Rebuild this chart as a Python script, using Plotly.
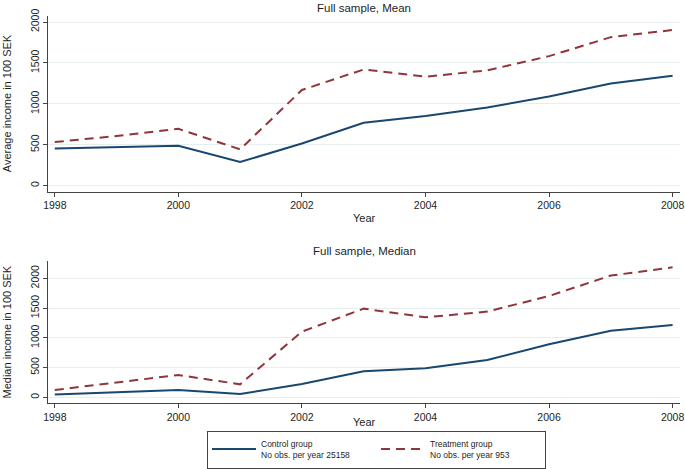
import plotly.graph_objects as go

years = [1998, 1999, 2000, 2001, 2002, 2003, 2004, 2005, 2006, 2007, 2008]
mean_control = [456, 477, 489, 289, 515, 770, 852, 955, 1090, 1248, 1344]
mean_treatment = [534, 607, 695, 444, 1170, 1420, 1332, 1409, 1583, 1815, 1902]
median_control = [45, 84, 123, 56, 224, 437, 490, 627, 890, 1118, 1214]
median_treatment = [123, 246, 375, 218, 1104, 1490, 1345, 1440, 1703, 2046, 2185]

x_ticks = [1998, 2000, 2002, 2004, 2006, 2008]
y_ticks = [0, 500, 1000, 1500, 2000]
control_name = "Control group<br>No obs. per year 25158"
treatment_name = "Treatment group<br>No obs. per year 953"

W, H = 685, 469
navy = "#1a476f"
maroon = "#90353b"
FONT = "Liberation Sans, Arial, sans-serif"
TXT = "#1e1e1e"

fig = go.Figure()
fig.add_trace(go.Scatter(x=years, y=mean_control, mode="lines", name=control_name,
                         line=dict(color=navy, width=2), xaxis="x", yaxis="y", legendgroup="c"))
fig.add_trace(go.Scatter(x=years, y=mean_treatment, mode="lines", name=treatment_name,
                         line=dict(color=maroon, width=2, dash="9px,6px"), xaxis="x", yaxis="y", legendgroup="t"))
fig.add_trace(go.Scatter(x=years, y=median_control, mode="lines", name=control_name, showlegend=False,
                         line=dict(color=navy, width=2), xaxis="x2", yaxis="y2", legendgroup="c"))
fig.add_trace(go.Scatter(x=years, y=median_treatment, mode="lines", name=treatment_name, showlegend=False,
                         line=dict(color=maroon, width=2, dash="9px,6px"), xaxis="x2", yaxis="y2", legendgroup="t"))

def py(px):
    return 1 - px / H

xdom = [48 / W, 680 / W]
axis_common = dict(showline=True, linecolor="#444", linewidth=1, ticks="outside", ticklen=4,
                   tickcolor="#444", tickfont=dict(size=10.5, color=TXT, family=FONT),
                   zeroline=False, mirror=False, automargin=False)
xa = dict(axis_common, range=[1997.89, 2008.12], tickvals=x_ticks, showgrid=False, domain=xdom)
ya = dict(axis_common, tickvals=y_ticks, showgrid=True, gridcolor="#e6eef0", gridwidth=1,
          tickangle=-90)

fig.update_layout(
    width=W, height=H,
    margin=dict(l=0, r=0, t=0, b=0),
    paper_bgcolor="white", plot_bgcolor="white",
    font=dict(family=FONT, color=TXT),
    xaxis=dict(xa, anchor="y"),
    yaxis=dict(ya, range=[-73, 2077], domain=[py(191.7), py(15.7)], anchor="x"),
    xaxis2=dict(xa, anchor="y2"),
    yaxis2=dict(ya, range=[-101, 2296], domain=[py(403.3), py(260.7)], anchor="x2"),
    legend=dict(orientation="h", x=207 / W, xanchor="left", y=py(468.5), yanchor="bottom",
                bordercolor="#444", borderwidth=1, bgcolor="rgba(255,255,255,0)",
                font=dict(size=8.5, color=TXT, family=FONT),
                entrywidth=110, itemwidth=44, tracegroupgap=0, valign="middle"),
    showlegend=True,
)

xc = (48 + 680) / 2 / W
annots = [
    dict(text="Full sample, Mean", x=xc, y=py(8), size=11.5),
    dict(text="Full sample, Median", x=xc, y=py(251), size=11.5),
    dict(text="Year", x=xc, y=py(218), size=11),
    dict(text="Year", x=xc, y=py(422), size=11),
]
for a in annots:
    fig.add_annotation(text=a["text"], x=a["x"], y=a["y"], xref="paper", yref="paper",
                       xanchor="center", yanchor="middle", showarrow=False,
                       font=dict(size=a["size"], color=TXT, family=FONT))
fig.add_annotation(text="Average income in 100 SEK", x=6.5 / W, y=py(103.7), xref="paper", yref="paper",
                   textangle=-90, xanchor="center", yanchor="middle", showarrow=False,
                   font=dict(size=11, color=TXT, family=FONT))
fig.add_annotation(text="Median income in 100 SEK", x=6.5 / W, y=py(332), xref="paper", yref="paper",
                   textangle=-90, xanchor="center", yanchor="middle", showarrow=False,
                   font=dict(size=11, color=TXT, family=FONT))

fig.write_html("out.html", config={"displayModeBar": False},
               post_script="document.body.style.margin='0';")
